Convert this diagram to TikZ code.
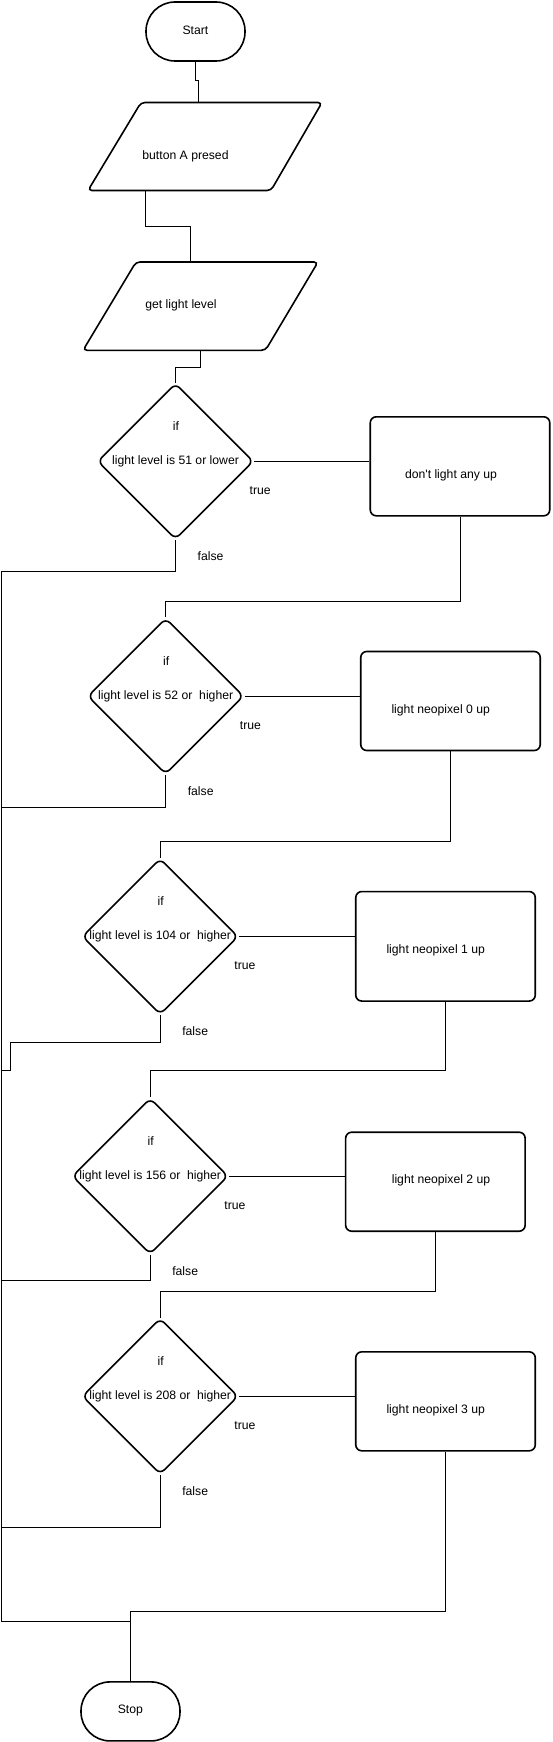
\documentclass[tikz,border=0pt]{standalone}
\usepackage{fontspec}
\setmainfont{Liberation Sans}[Ligatures=TeXOff]
\usetikzlibrary{shapes.geometric,calc}
\begin{document}
\begin{tikzpicture}[x=1pt,y=-1pt,
  font=\fontsize{12.2}{14}\selectfont,
  every node/.append style={inner sep=0pt},
  shp/.style={draw=black, line width=1.6pt},
  term/.style={shp, rectangle, rounded corners=29pt, minimum width=99pt, minimum height=59pt},
  dec/.style={shp, diamond, rounded corners=6pt, minimum width=156pt, minimum height=156pt},
  proc/.style={shp, rectangle, rounded corners=6pt, minimum width=179.5pt, minimum height=99pt},
  conn/.style={draw=black, line width=1pt},
  para/.style={shp, rounded corners=4pt}
]
\useasboundingbox (0,0) rectangle (552,1742);

% terminals
\node[term] (start) at (195.5,31.5) {};
\node (startt) at (195.4,30.7) {Start};
\node[term] (stop) at (130.5,1711.4) {};
\node (stopt) at (130.3,1710.7) {Stop};

% parallelograms
\draw[para] (141,102.5) -- (322,102.5) -- (271,190.5) -- (88,190.5) -- cycle;
\node[minimum width=234pt, minimum height=88pt] (p1) at (205,146.5) {};
\node (p1t) at (185.5,156) {button A presed};
\draw[para] (136,262) -- (318,262) -- (265.5,350.3) -- (83,350.3) -- cycle;
\node[minimum width=235pt, minimum height=88.3pt] (p2) at (200.5,306.1) {};
\node (p2t) at (181,305.7) {get light level};

% decisions
\node[dec] (d1) at (175.5,461.3) {};
\node[dec] (d2) at (165.7,696.2) {};
\node[dec] (d3) at (160.2,936.5) {};
\node[dec] (d4) at (150.2,1176.2) {};
\node[dec] (d5) at (160.2,1396.3) {};

\node (d1t) at (d1.center) {light level is 51 or lower};
\node (d2t) at (d2.center) {light level is 52 or\ \ higher};
\node (d3t) at (d3.center) {light level is 104 or\ \ higher};
\node (d4t) at (d4.center) {light level is 156 or\ \ higher};
\node (d5t) at (d5.center) {light level is 208 or\ \ higher};

\foreach \d in {d1,d2,d3,d4,d5}{
  \node (\d if) at ($(\d.center)+(0.5,-35.5)$) {if};
  \node (\d true) at ($(\d.center)+(84.7,29.5)$) {true};
  \node (\d false) at ($(\d.center)+(35,94.5)$) {false};
}

% processes
\node[proc] (r1) at (460,466.3) {};
\node (r1t) at (451,475.7) {don't light any up};
\node[proc] (r2) at (450.5,701) {};
\node (r2t) at (440.7,710.7) {light neopixel 0 up};
\node[proc, minimum height=109.5pt] (r3) at (445.5,946.3) {};
\node (r3t) at (435.7,950.7) {light neopixel 1 up};
\node[proc] (r4) at (435.4,1181.7) {};
\node (r4t) at (441,1180.7) {light neopixel 2 up};
\node[proc] (r5) at (445.5,1401.3) {};
\node (r5t) at (435.7,1410.7) {light neopixel 3 up};

% connectors
\draw[conn] (start.south) -- (195.5,81) -- (198,81) -- (p1.north -| 198,0);
\draw[conn] (p1.south -| 145.4,0) |- (190.5,226) -- (p2.north -| 190.5,0);
\draw[conn] (p2.south -| 200.7,0) |- (175.5,367) -- (d1.north);

\draw[conn] (d1.east) -- (d1.east -| r1.west);
\draw[conn] (d2.east) -- (d2.east -| r2.west);
\draw[conn] (d3.east) -- (d3.east -| r3.west);
\draw[conn] (d4.east) -- (d4.east -| r4.west);
\draw[conn] (d5.east) -- (d5.east -| r5.west);

\draw[conn] (r1.south) |- (165.7,601) -- (d2.north);
\draw[conn] (r2.south) |- (160.2,841.3) -- (d3.north);
\draw[conn] (r3.south) |- (150.2,1070.7) -- (d4.north);
\draw[conn] (r4.south) |- (160.2,1291.3) -- (d5.north);
\draw[conn] (r5.south) |- (130.5,1611) -- (stop.north);

\draw[conn] (d1.south) |- (1,571.3) -- (1,1621) -- (130.5,1621);
\draw[conn] (d2.south) |- (1,807);
\draw[conn] (d3.south) |- (10.2,1042.3) |- (1,1070.7);
\draw[conn] (d4.south) |- (1,1280);
\draw[conn] (d5.south) |- (1,1527.3);
\end{tikzpicture}
\end{document}
